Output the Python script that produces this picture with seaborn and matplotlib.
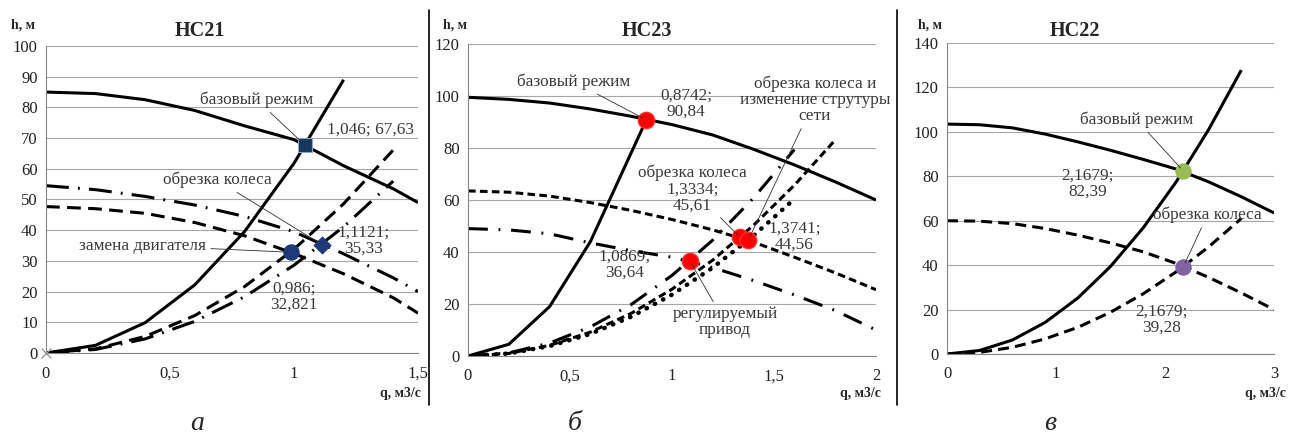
import matplotlib
matplotlib.use("Agg")
import matplotlib.pyplot as plt
from matplotlib.lines import Line2D
import seaborn as sns

# ---------------- HC21 (a) ----------------
q21_pump = [0, 0.2, 0.4, 0.6, 0.8, 1.0, 1.2, 1.4, 1.5]
h21_pump = [85, 84.5, 82.5, 79, 74, 69.5, 61, 53.5, 49]
h21_pump_trim = [54.5, 53.2, 51, 48.2, 44.5, 39.5, 32.3, 24.5, 20]     # dash-dot
h21_pump_motor = [47.7, 47, 45.5, 42.5, 38.2, 32.4, 25.8, 18, 13]     # dashed

q21_net = [0, 0.2, 0.4, 0.6, 0.8, 1.0, 1.2]
h21_net = [0, 2.5, 9.9, 22.2, 39.5, 61.8, 89]
q21_net_motor = [0, 0.2, 0.4, 0.6, 0.8, 1.0, 1.2, 1.41]
h21_net_motor = [0, 1.35, 5.4, 12.2, 21.6, 33.8, 48.6, 67]
q21_net_trim = [0, 0.2, 0.4, 0.6, 0.8, 1.0, 1.2, 1.4]
h21_net_trim = [0, 1.15, 4.6, 10.3, 18.3, 28.6, 41.1, 56]

pts21_q = [1.046, 1.1121, 0.986]
pts21_h = [67.63, 35.33, 32.821]

# ---------------- HC23 (б) ----------------
q23_pump = [0, 0.2, 0.4, 0.6, 0.8, 1.0, 1.2, 1.4, 1.6, 1.8, 2.0]
h23_pump = [99.5, 98.7, 97.3, 95, 92.2, 89, 85, 79.5, 73.5, 67, 60]
h23_pump_trim = [63.5, 63, 61.5, 59, 56, 52.5, 48.5, 43.8, 38, 32, 25.5]  # dashed
h23_pump_vfd = [49, 48.5, 47, 43.5, 40.5, 38, 34, 29, 23.5, 17.5, 10]     # dash-dot

q23_net = [0, 0.2, 0.4, 0.6, 0.8742]
h23_net = [0, 4.5, 19, 44, 90.84]
q23_net_vfd = [0, 0.2, 0.4, 0.6, 0.8, 1.0, 1.2, 1.4, 1.6]
h23_net_vfd = [0, 1.2, 5, 11.2, 19.8, 31, 44.6, 60.8, 79.4]
q23_net_trim = [0, 0.2, 0.4, 0.6, 0.8, 1.0, 1.2, 1.4, 1.6, 1.8]
h23_net_trim = [0, 1, 4.1, 9.2, 16.4, 25.7, 36.9, 50.3, 65.7, 83.1]
q23_net_new = [0, 0.2, 0.4, 0.6, 0.8, 1.0, 1.2, 1.4, 1.6]
h23_net_new = [0, 0.95, 3.8, 8.5, 15.1, 23.6, 34, 46.3, 60.4]

pts23_q = [0.8742, 1.0869, 1.3334, 1.3741]
pts23_h = [90.84, 36.64, 45.61, 44.56]

# ---------------- HC22 (в) ----------------
q22 = [0, 0.3, 0.6, 0.9, 1.2, 1.5, 1.8, 2.1, 2.4, 2.7, 3.0]
h22_pump = [103.5, 103.2, 101.8, 99, 95.5, 91.7, 87.6, 83.3, 77.5, 70.8, 63.5]
h22_pump_trim = [60, 59.8, 58.7, 56.5, 53.5, 50, 46, 40.8, 34.5, 27.5, 20]
q22_net = [0, 0.3, 0.6, 0.9, 1.2, 1.5, 1.8, 2.1, 2.4, 2.7]
h22_net = [0, 1.6, 6.3, 14.2, 25.2, 39.4, 56.8, 77.3, 101, 127.8]
h22_net_trim = [0, 0.75, 3, 6.8, 12, 18.8, 27.1, 36.9, 48.2, 61]

pts22_q = [2.1679, 2.1679]
pts22_h = [82.39, 39.28]

sns.set_style("white")
plt.rcParams['font.family'] = ['Liberation Serif', 'DejaVu Serif']

W, H = 1298, 441
fig = plt.figure(figsize=(W / 100, H / 100), dpi=100)

LW = 2.2
DASH_A = (0, (4.5, 2.4))
DDOT_A = (0, (7.5, 3, 0.6, 3))
DASH_B = (0, (2.5, 1.4))
DDOT_B = (0, (6.5, 3.5, 0.6, 3.5))
DOT_B = (0, (0.1, 2.0))
DASH_C = (0, (3.6, 2.0))
TXT = '#3a3a3a'
FS = 12.4


def make_axes(px_left, px_right, px_top, px_bottom):
    return fig.add_axes([px_left / W, 1 - px_bottom / H,
                         (px_right - px_left) / W, (px_bottom - px_top) / H])


def style_axes(ax, xlim, ylim, xticks, xlabels, yticks):
    ax.set_xlim(*xlim)
    ax.set_ylim(*ylim)
    ax.set_xticks(xticks)
    ax.set_xticklabels(xlabels)
    ax.set_yticks(yticks)
    ax.yaxis.grid(True, color='#a6a6a6', lw=0.8)
    ax.xaxis.grid(False)
    ax.set_axisbelow(True)
    for s in ['top', 'right']:
        ax.spines[s].set_visible(False)
    for s in ['left', 'bottom']:
        ax.spines[s].set_color('#868686')
        ax.spines[s].set_linewidth(0.8)
    ax.tick_params(axis='both', direction='out', length=4, width=0.8,
                   color='#868686', labelsize=12, labelcolor='#222222')
    ax.tick_params(axis='x', pad=5)
    ax.tick_params(axis='y', pad=2)
    ax.set_xlabel('')
    ax.set_ylabel('')
    ax.patch.set_alpha(0)


def line(ax, x, y, ls='-', lw=LW, cap='butt'):
    sns.lineplot(x=x, y=y, ax=ax, color='black', lw=lw, linestyle=ls,
                 estimator=None, sort=False, solid_capstyle='butt',
                 dash_capstyle=cap)


def label(ax, text, xy, xytext, leader=True):
    if leader:
        ax.annotate(text, xy=xy, xytext=xytext, ha='center', va='center',
                    fontsize=FS, color=TXT, linespacing=1.0, zorder=6,
                    arrowprops=dict(arrowstyle='-', color='#303030', lw=0.6,
                                    shrinkA=1, shrinkB=3))
    else:
        ax.text(xytext[0], xytext[1], text, ha='center', va='center',
                fontsize=FS, color=TXT, linespacing=1.0, zorder=6)


def ftext(x, y, s, **kw):
    fig.text(x / W, 1 - y / H, s, **kw)


# ---------- panel a ----------
ax1 = make_axes(46, 418, 46, 353)
line(ax1, q21_pump, h21_pump)
line(ax1, q21_pump, h21_pump_trim, DDOT_A)
line(ax1, q21_pump, h21_pump_motor, DASH_A)
line(ax1, q21_net, h21_net)
line(ax1, q21_net_motor, h21_net_motor, DASH_A)
line(ax1, q21_net_trim, h21_net_trim, DDOT_A)
sns.scatterplot(x=pts21_q[:1], y=pts21_h[:1], marker='s', s=95, color='#17375e',
                edgecolor='#8ea9c8', linewidth=0.8, ax=ax1, zorder=5)
sns.scatterplot(x=pts21_q[1:2], y=pts21_h[1:2], marker='D', s=75, color='#1f3a7a',
                edgecolor='#1f3a7a', ax=ax1, zorder=5)
sns.scatterplot(x=pts21_q[2:], y=pts21_h[2:], marker='o', s=120, color='#1f3a7a',
                edgecolor='#1f3a7a', ax=ax1, zorder=5)
sns.scatterplot(x=[0], y=[0], marker='x', s=50, color='#9a9a9a', linewidth=1,
                ax=ax1, zorder=5, clip_on=False)
style_axes(ax1, (0, 1.5), (0, 100), [0, 0.5, 1, 1.5], ['0', '0,5', '1', '1,5'],
           range(0, 101, 10))
label(ax1, 'базовый режим', (pts21_q[0], pts21_h[0]), (0.85, 82.4))
label(ax1, '1,046; 67,63', None, (1.31, 72.6), leader=False)
label(ax1, 'обрезка колеса', (pts21_q[1], pts21_h[1]), (0.69, 56.3))
label(ax1, '1,1121;\n35,33', None, (1.28, 36.5), leader=False)
label(ax1, 'замена двигателя', (pts21_q[2], pts21_h[2]), (0.39, 35))
label(ax1, '0,986;\n32,821', None, (1.0, 18.3), leader=False)

# ---------- panel б ----------
ax2 = make_axes(468, 876, 44, 356)
line(ax2, q23_pump, h23_pump)
line(ax2, q23_pump, h23_pump_trim, DASH_B)
line(ax2, q23_pump, h23_pump_vfd, DDOT_B)
line(ax2, q23_net, h23_net)
line(ax2, q23_net_vfd, h23_net_vfd, DDOT_B)
line(ax2, q23_net_trim, h23_net_trim, DASH_B)
line(ax2, q23_net_new, h23_net_new, DOT_B, lw=3.2, cap='round')
sns.scatterplot(x=pts23_q, y=pts23_h, marker='o', s=140, color='#ff0000',
                edgecolor='#ff3030', ax=ax2, zorder=5)
style_axes(ax2, (0, 2), (0, 120), [0, 0.5, 1, 1.5, 2], ['0', '0,5', '1', '1,5', '2'],
           range(0, 121, 20))
label(ax2, 'базовый режим', (pts23_q[0], pts23_h[0]), (0.52, 105.4))
label(ax2, '0,8742;\n90,84', None, (1.07, 97), leader=False)
label(ax2, 'обрезка колеса и\nизменение струтуры\nсети', (pts23_q[3], pts23_h[3]),
      (1.70, 98.5))
label(ax2, 'обрезка колеса\n1,3334;\n45,61', (pts23_q[2], pts23_h[2]), (1.10, 64.2))
label(ax2, '1,0869;\n36,64', None, (0.766, 35), leader=False)
label(ax2, '1,3741;\n44,56', None, (1.60, 45.8), leader=False)
label(ax2, 'регулируемый\nпривод', (pts23_q[1], pts23_h[1]), (1.26, 13))

# ---------- panel в ----------
ax3 = make_axes(947, 1274, 43, 354)
line(ax3, q22, h22_pump)
line(ax3, q22, h22_pump_trim, DASH_C)
line(ax3, q22_net, h22_net)
line(ax3, q22_net, h22_net_trim, DASH_C)
sns.scatterplot(x=pts22_q[:1], y=pts22_h[:1], marker='o', s=120, color='#9bbb59',
                edgecolor='#9bbb59', ax=ax3, zorder=5)
sns.scatterplot(x=pts22_q[1:], y=pts22_h[1:], marker='o', s=120, color='#8064a2',
                edgecolor='#8064a2', ax=ax3, zorder=5)
style_axes(ax3, (0, 3), (0, 140), [0, 1, 2, 3], ['0', '1', '2', '3'],
           range(0, 141, 20))
label(ax3, 'базовый режим', (pts22_q[0], pts22_h[0]), (1.74, 105.4))
label(ax3, '2,1679;\n82,39', None, (1.29, 76.6), leader=False)
label(ax3, 'обрезка колеса', (pts22_q[1], pts22_h[1]), (2.39, 62.6))
label(ax3, '2,1679;\n39,28', None, (1.97, 15.3), leader=False)

# titles sit left of the axes centre, as in the source
for x, t in [(200, 'HC21'), (647, 'HC23'), (1075, 'HC22')]:
    ftext(x, 31, t, fontsize=14.5, fontweight='bold', ha='center', va='center')

for x in [23, 455, 930]:
    ftext(x, 25, 'h, м', fontsize=10, fontweight='bold', ha='center', va='center')
for x in [421, 881, 1286]:
    ftext(x, 394, 'q, м3/с', fontsize=10, fontweight='bold', ha='right', va='center')

ftext(197, 423, 'а', fontsize=20, style='italic', ha='center', va='center')
ftext(575, 423, 'б', fontsize=20, style='italic', ha='center', va='center')
ftext(1050, 423, 'в', fontsize=20, style='italic', ha='center', va='center')

for x in [429, 897]:
    fig.add_artist(Line2D([x / W, x / W], [1 - 10 / H, 1 - 405 / H],
                          color='black', lw=1.2))

fig.savefig('out.png', dpi=100)
